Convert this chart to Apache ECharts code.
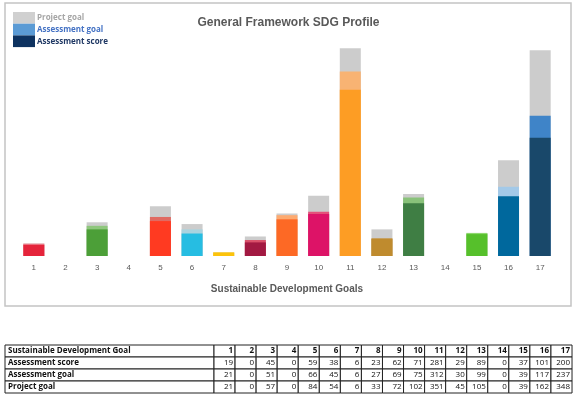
<!DOCTYPE html>
<html>
<head>
    <title>General Framework SDG Profile</title>
    <script src="https://cdn.jsdelivr.net/npm/echarts@6/dist/echarts.min.js"></script>
    <style>
        body { margin: 0; background: #fff; }
        #chart { width: 577px; height: 399px; }
    </style>
</head>
<body>
    <div id="chart"></div>
    <script>
        // values
        var goals = ['1', '2', '3', '4', '5', '6', '7', '8', '9', '10', '11', '12', '13', '14', '15', '16', '17'];
        var assessmentScore = [19, 0, 45, 0, 59, 38, 6, 23, 62, 71, 281, 29, 89, 0, 37, 101, 200];
        var assessmentGoal = [21, 0, 51, 0, 66, 45, 6, 27, 69, 75, 312, 30, 99, 0, 39, 117, 237];
        var projectGoal = [21, 0, 57, 0, 84, 54, 6, 33, 72, 102, 351, 45, 105, 0, 39, 162, 348];

        // SDG colours: score colour and lighter goal colour
        var scoreColors = ['#E5243B', '#DDA63A', '#4C9F38', '#C5192D', '#FF3A21', '#26BDE2', '#FCC30B', '#A21942', '#FD6925',
                           '#DD1367', '#FD9D24', '#BF8B2E', '#3F7E44', '#0A97D9', '#56C02B', '#00689D', '#19486A'];
        var goalColors = ['#ee8a95', '#eccb8a', '#8fc77d', '#e07a85', '#e06a62', '#a9d3df', '#fcd96a', '#d9506a', '#fdaa70',
                          '#e4507a', '#f8b373', '#c9994a', '#89c27a', '#7cc4e8', '#8ed86e', '#a3c9e8', '#3f84c8'];
        var greyGoal = '#cccccc';

        // legend entries (top to bottom)
        var legendNames = ['Project goal', 'Assessment goal', 'Assessment score'];
        var legendSwatch = ['#d0d0d0', '#5b9bd5', '#0d3260'];
        var legendText = ['#a6a6a6', '#4472c4', '#1f3864'];

        var chart = echarts.init(document.getElementById('chart'));

        var legendItems = [];
        legendNames.forEach(function (n, i) {
            var y = 12 + i * 11.7;
            legendItems.push({
                type: 'rect', shape: { x: 13, y: y, width: 22, height: 11.7 },
                style: { fill: legendSwatch[i] }
            });
            legendItems.push({
                type: 'text', x: 37, y: y + 5.9,
                style: { text: n, fontSize: 8, fontWeight: 'bold', fontFamily: 'Open Sans', fill: legendText[i], verticalAlign: 'middle' }
            });
        });

        // table drawn as graphic elements
        var tableLeft = 5, labelW = 209, colW = 21.06, rowH = 12, tableTop = 345;
        var rows = [
            ['Sustainable Development Goal', goals],
            ['Assessment score', assessmentScore],
            ['Assessment goal', assessmentGoal],
            ['Project goal', projectGoal]
        ];
        var cells = [];
        rows.forEach(function (row, r) {
            var y = tableTop + r * rowH;
            cells.push({
                type: 'rect', shape: { x: tableLeft, y: y, width: labelW, height: rowH },
                style: { fill: '#fff', stroke: '#222', lineWidth: 1 }
            });
            cells.push({
                type: 'text', x: tableLeft + 3, y: y + rowH / 2,
                style: { text: row[0], fontSize: 8, fontWeight: 'bold', fontFamily: 'Open Sans', fill: '#111', verticalAlign: 'middle' }
            });
            row[1].forEach(function (v, c) {
                var x = tableLeft + labelW + c * colW;
                cells.push({
                    type: 'rect', shape: { x: x, y: y, width: colW, height: rowH },
                    style: { fill: '#fff', stroke: '#222', lineWidth: 1 }
                });
                cells.push({
                    type: 'text', x: x + colW - 2, y: y + rowH / 2,
                    style: { text: String(v), fontSize: 8, fontWeight: r === 0 ? 'bold' : 'normal', fontFamily: 'Open Sans',
                             fill: '#111', align: 'right', verticalAlign: 'middle' }
                });
            });
        });

        var option = {
            animation: false,
            backgroundColor: '#fff',
            title: {
                text: 'General Framework SDG Profile',
                left: 'center',
                top: 7,
                textStyle: { fontSize: 12, fontWeight: 'bold', color: '#595959', fontFamily: 'Liberation Sans' }
            },
            grid: { left: 18, right: 21, top: 46, bottom: 143 },
            xAxis: {
                type: 'category',
                data: goals,
                name: 'Sustainable Development Goals',
                nameLocation: 'middle',
                nameGap: 25,
                nameTextStyle: { fontSize: 10, fontWeight: 'bold', color: '#595959', fontFamily: 'Liberation Sans' },
                axisLine: { show: false },
                axisTick: { show: false },
                axisLabel: { fontSize: 8, color: '#595959', margin: 5 }
            },
            yAxis: {
                type: 'value',
                min: 0,
                max: 355,
                show: false
            },
            series: [
                {
                    name: 'Project goal', type: 'bar', barWidth: 21, barGap: '-100%',
                    data: projectGoal.map(function (v) { return { value: v, itemStyle: { color: greyGoal } }; })
                },
                {
                    name: 'Assessment goal', type: 'bar', barWidth: 21, barGap: '-100%',
                    data: assessmentGoal.map(function (v, i) { return { value: v, itemStyle: { color: goalColors[i] } }; })
                },
                {
                    name: 'Assessment score', type: 'bar', barWidth: 21, barGap: '-100%',
                    data: assessmentScore.map(function (v, i) { return { value: v, itemStyle: { color: scoreColors[i] } }; })
                }
            ],
            graphic: [
                {
                    type: 'rect', z: -10, silent: true,
                    shape: { x: 5, y: 3, width: 566, height: 303 },
                    style: { fill: '#fff', stroke: '#c4c4c4', lineWidth: 1.5 }
                }
            ].concat(legendItems, cells)
        };
        chart.setOption(option);
    </script>
</body>
</html>
